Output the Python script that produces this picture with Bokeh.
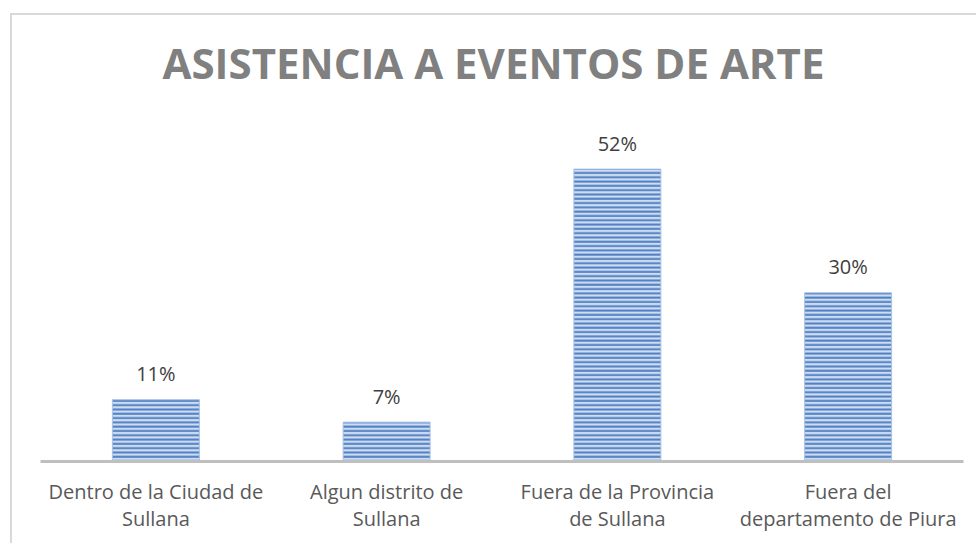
from bokeh.plotting import figure
from bokeh.models import FactorRange, Range1d, ColumnDataSource
from bokeh.embed import file_html
from bokeh.resources import INLINE
from bokeh.core.properties import value

title_text = "ASISTENCIA A EVENTOS DE ARTE"
categories = [
    "Dentro de la Ciudad de\nSullana",
    "Algun distrito de\nSullana",
    "Fuera de la Provincia\nde Sullana",
    "Fuera del\ndepartamento de Piura",
]
values = [11, 7, 52, 30]
labels = [f"{v}%" for v in values]

src = ColumnDataSource(data=dict(cat=categories, val=values, lab=labels))

p = figure(
    x_range=FactorRange(*categories),
    y_range=Range1d(0, 64.2),
    width=966, height=530,
    output_backend="svg", toolbar_location=None,
    min_border_left=28, min_border_right=15,
    min_border_top=85, min_border_bottom=84,
    title=title_text,
    styles={"margin-left": "10px", "margin-top": "13px",
            "border-left": "2px solid #d9d9d9",
            "border-top": "2px solid #d9d9d9"},
)
p.title.text_font = "Open Sans"
p.title.text_font_style = "bold"
p.title.text_font_size = "42px"
p.title.text_color = "#808080"
p.title.align = "left"
p.title.offset = 122
p.title.standoff = 19

p.vbar(x="cat", top="val", width=0.377, source=src,
       fill_color="#cfdcf0", line_color="#a9c2e6", line_width=1,
       hatch_pattern="-", hatch_color="#4e80c4", hatch_scale=4.3, hatch_weight=2)

p.text(x="cat", y="val", text="lab", source=src,
       text_align="center", text_baseline="alphabetic", y_offset=-26,
       text_font=value("Open Sans"), text_font_size="20px", text_color="#404040")

p.xgrid.visible = False
p.ygrid.visible = False
p.yaxis.visible = False
p.outline_line_color = None
p.xaxis.axis_line_color = "#bfbfbf"
p.xaxis.axis_line_width = 3
p.xaxis.major_tick_line_color = None
p.xaxis.minor_tick_line_color = None
p.xaxis.major_label_text_font = "Open Sans"
p.xaxis.major_label_text_font_size = "20px"
p.xaxis.major_label_text_color = "#595959"
p.xaxis.major_label_text_line_height = 1.03
p.xaxis.major_label_standoff = 10
p.xaxis.major_label_orientation = "horizontal"

open("out.html", "w").write(file_html(p, INLINE))
